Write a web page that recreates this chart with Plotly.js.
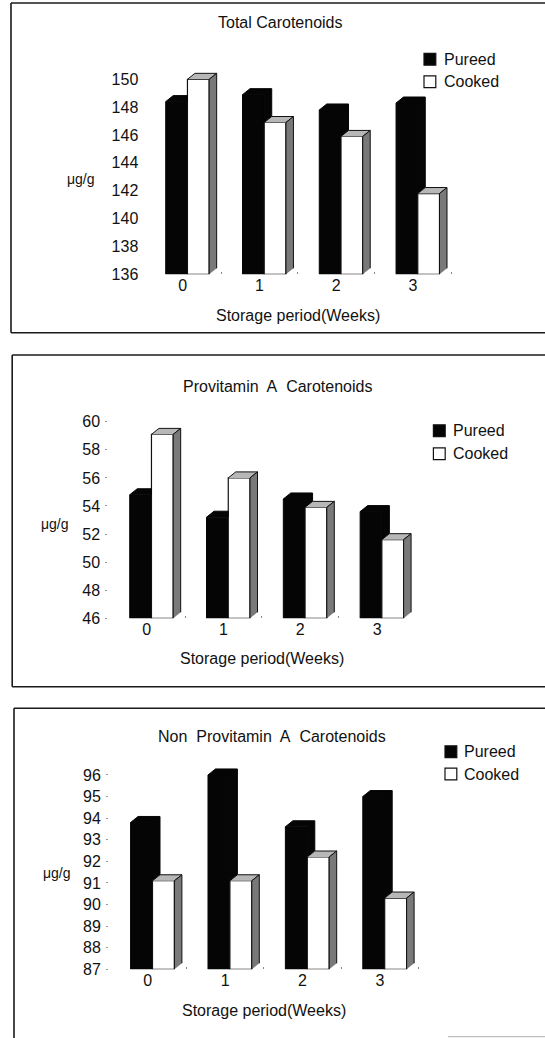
<!DOCTYPE html>
<html>
<head>
<meta charset="utf-8">
<script src="https://cdn.plot.ly/plotly-3.0.1.min.js"></script>
<style>
  html, body { margin: 0; padding: 0; background: #fff; overflow: hidden; }
  #chart { width: 545px; height: 1038px; }
</style>
</head>
<body>
<div id="chart"></div>
<script>
// Carotenoid content (µg/g) of pureed and cooked samples over 4 weeks of storage
const WEEKS = [0, 1, 2, 3];
const WEEK_LABELS = ['0', '1', '2', '3'];
const SERIES_NAMES = ['Pureed', 'Cooked'];

const TOTAL_PUREED = [148.4, 148.9, 147.8, 148.3];
const TOTAL_COOKED = [150.0, 146.9, 145.9, 141.8];

const PROVIT_PUREED = [54.8, 53.2, 54.5, 53.6];
const PROVIT_COOKED = [59.1, 56.0, 53.9, 51.6];

const NONPROVIT_PUREED = [93.8, 96.0, 93.6, 95.0];
const NONPROVIT_COOKED = [91.1, 91.1, 92.2, 90.3];

const FIG_W = 545, FIG_H = 1038;
const FONT = 'Liberation Sans, Arial, Helvetica, sans-serif';
const SP = '\u00a0 ';

// bar geometry in category units, depth of the 3D faces in pixels
const BAR_W = 0.283;
const OFF_P = -0.221;
const OFF_C = OFF_P + BAR_W;
const DEPTH = { x: 7.5, y: 6 };

const panels = [
  {
    title: 'Total Carotenoids', pureed: TOTAL_PUREED, cooked: TOTAL_COOKED,
    yMin: 136, yMax: 151, dtick: 2, axisTicks: false,
    plot: { left: 144.3, right: 451.4, top: 65.4, bottom: 274.3 },
    titleAt: [280.4, 22.7], unitAt: [80.8, 179.3], xTitleY: 315,
    legend: { sx: 424, tx: 441.7, y: [59.3, 81.7] },
    frame: { left: 11, top: 3, bottom: 332.7 },
    minor: [0.5, 1.5, 2.5, 3.5]
  },
  {
    title: 'Provitamin' + SP + 'A' + SP + 'Carotenoids', pureed: PROVIT_PUREED, cooked: PROVIT_COOKED,
    yMin: 46, yMax: 61, dtick: 2, axisTicks: true,
    plot: { left: 108.3, right: 415.5, top: 407.7, bottom: 618.3 },
    titleAt: [277.5, 386], unitAt: [55.1, 524], xTitleY: 658.3,
    legend: { sx: 433.4, tx: 450.8, y: [430.7, 453.7] },
    frame: { left: 12.2, top: 355, bottom: 686.7 },
    minor: [0.5, 1.5, 2.5]
  },
  {
    title: 'Non' + SP + 'Provitamin' + SP + 'A' + SP + 'Carotenoids', pureed: NONPROVIT_PUREED, cooked: NONPROVIT_COOKED,
    yMin: 87, yMax: 96.6, dtick: 1, axisTicks: true,
    plot: { left: 109, right: 418.6, top: 762, bottom: 969.3 },
    titleAt: [272, 736], unitAt: [57.2, 873.3], xTitleY: 1010,
    legend: { sx: 445, tx: 461.7, y: [751.7, 774] },
    frame: { left: 14, top: 708.3, bottom: null },
    minor: [0.5, 1.5, 2.5, 3.5]
  }
];

const px = v => v / FIG_W;
const py = v => 1 - v / FIG_H;

const data = [];
const layout = {
  width: FIG_W, height: FIG_H,
  margin: { l: 0, r: 0, t: 0, b: 0, pad: 0 },
  paper_bgcolor: '#fff', plot_bgcolor: 'rgba(0,0,0,0)',
  showlegend: false, barmode: 'overlay',
  font: { family: FONT, size: 16, color: '#111' },
  annotations: [], shapes: []
};

panels.forEach((p, k) => {
  const suffix = k === 0 ? '' : String(k + 1);
  const xa = 'x' + suffix, ya = 'y' + suffix;

  const pxPerX = (p.plot.right - p.plot.left) / 4;
  const pxPerY = (p.plot.bottom - p.plot.top) / (p.yMax - p.yMin);
  const dx = DEPTH.x / pxPerX, dy = DEPTH.y / pxPerY;

  // front faces
  data.push({
    type: 'bar', name: SERIES_NAMES[0], x: WEEKS, y: p.pureed.map(v => v - p.yMin), base: p.yMin,
    width: BAR_W, offset: OFF_P, xaxis: xa, yaxis: ya, hoverinfo: 'skip',
    marker: { color: '#050505', line: { color: '#050505', width: 1 } }
  });
  data.push({
    type: 'bar', name: SERIES_NAMES[1], x: WEEKS, y: p.cooked.map(v => v - p.yMin), base: p.yMin,
    width: BAR_W, offset: OFF_C, xaxis: xa, yaxis: ya, hoverinfo: 'skip',
    marker: { color: '#ffffff', line: { color: '#111', width: 1.2 } }
  });

  // top and side faces, built from the same values
  const pFx = [], pFy = [], cTx = [], cTy = [], cSx = [], cSy = [];
  WEEKS.forEach((w, i) => {
    const pv = p.pureed[i], cv = p.cooked[i];
    const pl = w + OFF_P, pr = pl + BAR_W, cl = w + OFF_C, cr = cl + BAR_W;
    if (pv > cv) {
      pFx.push(pl, pl + dx, pr + dx, pr + dx, pr, pr, null);
      pFy.push(pv, pv + dy, pv + dy, cv + dy, cv, pv, null);
    } else {
      pFx.push(pl, pl + dx, cl, cl, null);
      pFy.push(pv, pv + dy, pv + dy, pv, null);
    }
    cTx.push(cl, cl + dx, cr + dx, cr, null);
    cTy.push(cv, cv + dy, cv + dy, cv, null);
    cSx.push(cr, cr, cr + dx, cr + dx, null);
    cSy.push(p.yMin, cv, cv + dy, p.yMin + dy, null);
  });
  const face = (x, y, fill, line, pattern) => ({
    type: 'scatter', mode: 'lines', x, y, fill: 'toself', connectgaps: false,
    fillcolor: fill, line: { color: line, width: 1 }, xaxis: xa, yaxis: ya,
    hoverinfo: 'skip', showlegend: false, fillpattern: pattern
  });
  data.push(face(pFx, pFy, '#050505', '#050505', undefined));
  data.push(face(cTx, cTy, '#dcdcdc', '#111',
    { shape: '.', fgcolor: '#6a6a6a', bgcolor: '#e8e8e8', size: 2, solidity: 0.4 }));
  data.push(face(cSx, cSy, '#8e8e8e', '#111',
    { shape: '.', fgcolor: '#2e2e2e', bgcolor: '#b4b4b4', size: 2, solidity: 0.5 }));

  layout['xaxis' + suffix] = {
    domain: [px(p.plot.left), px(p.plot.right)], anchor: ya,
    range: [-0.5, 3.5], tickmode: 'array', tickvals: WEEKS, ticktext: WEEK_LABELS,
    ticks: '', showgrid: false, zeroline: false, showline: false, fixedrange: true,
    tickfont: { family: FONT, size: 16, color: '#111' },
    minor: { tickmode: 'array', tickvals: p.minor, ticks: 'inside', ticklen: 2, tickwidth: 1, tickcolor: '#888' }
  };
  layout['yaxis' + suffix] = {
    domain: [py(p.plot.bottom), py(p.plot.top)], anchor: xa,
    range: [p.yMin, p.yMax], tick0: p.yMin, dtick: p.dtick,
    ticks: p.axisTicks ? 'outside' : '', ticklen: 2, tickwidth: 1, tickcolor: '#999',
    ticklabelstandoff: p.axisTicks ? 2 : 5,
    showgrid: false, zeroline: false, showline: false, fixedrange: true,
    tickfont: { family: FONT, size: 16, color: '#111' }
  };

  const ann = (x, y, text, size, anchor) => ({
    xref: 'paper', yref: 'paper', x: px(x), y: py(y), text, showarrow: false,
    xanchor: anchor || 'center', yanchor: 'middle',
    font: { family: FONT, size, color: '#111' }
  });
  layout.annotations.push(ann(p.titleAt[0], p.titleAt[1], p.title, 16));
  layout.annotations.push(ann(p.unitAt[0], p.unitAt[1], 'μg/g', 14));
  layout.annotations.push(ann((p.plot.left + p.plot.right) / 2, p.xTitleY, 'Storage period(Weeks)', 16));

  // legend swatches and labels
  const sw = 11.8;
  SERIES_NAMES.forEach((name, j) => {
    const cy = p.legend.y[j];
    layout.shapes.push({
      type: 'rect', xref: 'paper', yref: 'paper',
      x0: px(p.legend.sx), x1: px(p.legend.sx + sw), y0: py(cy + sw / 2), y1: py(cy - sw / 2),
      fillcolor: j === 0 ? '#050505' : '#fff', line: { color: '#111', width: 1.2 }
    });
    layout.annotations.push(ann(p.legend.tx, cy, name, 16, 'left'));
  });

  // panel frame: left, top and bottom rules
  const line = (x0, y0, x1, y1, color, width) => ({
    type: 'line', xref: 'paper', yref: 'paper', x0: px(x0), y0: py(y0), x1: px(x1), y1: py(y1),
    line: { color: color || '#1a1a1a', width: width || 1.6 }
  });
  const bottom = p.frame.bottom === null ? FIG_H + 2 : p.frame.bottom;
  layout.shapes.push(line(p.frame.left, p.frame.top, p.frame.left, bottom));
  layout.shapes.push(line(p.frame.left, p.frame.top, FIG_W + 2, p.frame.top));
  if (p.frame.bottom !== null) layout.shapes.push(line(p.frame.left, p.frame.bottom, FIG_W + 2, p.frame.bottom));
});

layout.shapes.push({
  type: 'line', xref: 'paper', yref: 'paper', x0: px(448), y0: py(1036.7), x1: px(FIG_W + 2), y1: py(1036.7),
  line: { color: '#b0b0b0', width: 1 }
});

Plotly.newPlot('chart', data, layout, { displayModeBar: false, staticPlot: true });
</script>
</body>
</html>
